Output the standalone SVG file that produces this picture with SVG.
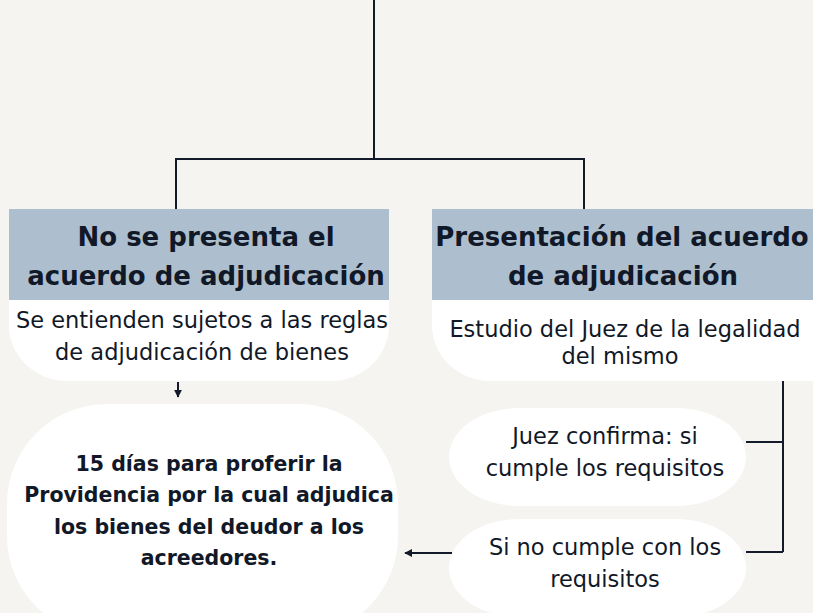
<svg xmlns="http://www.w3.org/2000/svg" width="813" height="613" viewBox="0 0 813 613">
<defs>
<style>
.bg{fill:#f5f4f0}
.hd{fill:#adbfcf}
.wh{fill:#ffffff}
.ln{stroke:#131a2a;stroke-width:2;fill:none}
.t{font-family:"DejaVu Sans","Liberation Sans",sans-serif;fill:#111827;text-anchor:middle}
.h{font-size:26px;font-weight:700}
.s{font-size:22.5px}
.b{font-size:20.5px;font-weight:700}
</style>
<marker id="ah" viewBox="0 0 10 10" refX="9" refY="5" markerWidth="4" markerHeight="4" orient="auto">
<path d="M0,0 L10,5 L0,10 z" fill="#131a2a"/>
</marker>
</defs>
<rect class="bg" x="0" y="0" width="813" height="613"/>
<g id="connectors">
<path class="ln" d="M374,0 V159"/>
<path class="ln" d="M176,209 V159 H584 V209"/>
<path class="ln" d="M178,382 V397" marker-end="url(#ah)"/>
<path class="ln" d="M783,369 V552"/>
<path class="ln" d="M746,442 H783"/>
<path class="ln" d="M746,552 H783"/>
<path class="ln" d="M452,553 H405" marker-end="url(#ah)"/>
</g>
<g id="node-no-presenta">
<path class="wh" d="M9,300 H389 V325 A58,56 0 0 1 331,381 H67 A58,56 0 0 1 9,325 Z"/>
<rect class="hd" x="9" y="209" width="380" height="91"/>
<text class="t h" x="206" y="246">No se presenta el</text>
<text class="t h" x="206" y="285">acuerdo de adjudicación</text>
<text class="t s" x="202" y="328">Se entienden sujetos a las reglas</text>
<text class="t s" x="202" y="360">de adjudicación de bienes</text>
</g>
<g id="node-presentacion">
<path class="wh" d="M432,300 H813 V381 H490 A58,56 0 0 1 432,325 Z"/>
<rect class="hd" x="432" y="209" width="381" height="91"/>
<text class="t h" x="622" y="246">Presentación del acuerdo</text>
<text class="t h" x="623" y="285">de adjudicación</text>
<text class="t s" x="625" y="337">Estudio del Juez de la legalidad</text>
<text class="t s" x="620" y="364">del mismo</text>
</g>
<g id="node-15-dias">
<rect class="wh" x="7" y="404" width="391" height="232" rx="100" ry="100"/>
<text class="t b" x="209" y="471">15 días para proferir la</text>
<text class="t b" x="209" y="502">Providencia por la cual adjudica</text>
<text class="t b" x="209" y="534">los bienes del deudor a los</text>
<text class="t b" x="209" y="565">acreedores.</text>
</g>
<g id="node-juez-confirma">
<rect class="wh" x="449" y="408" width="297" height="98" rx="70" ry="49"/>
<text class="t s" x="605" y="444">Juez confirma: si</text>
<text class="t s" x="605" y="476">cumple los requisitos</text>
</g>
<g id="node-no-cumple">
<rect class="wh" x="449" y="519" width="297" height="98" rx="70" ry="49"/>
<text class="t s" x="605" y="555">Si no cumple con los</text>
<text class="t s" x="605" y="587">requisitos</text>
</g>
</svg>
